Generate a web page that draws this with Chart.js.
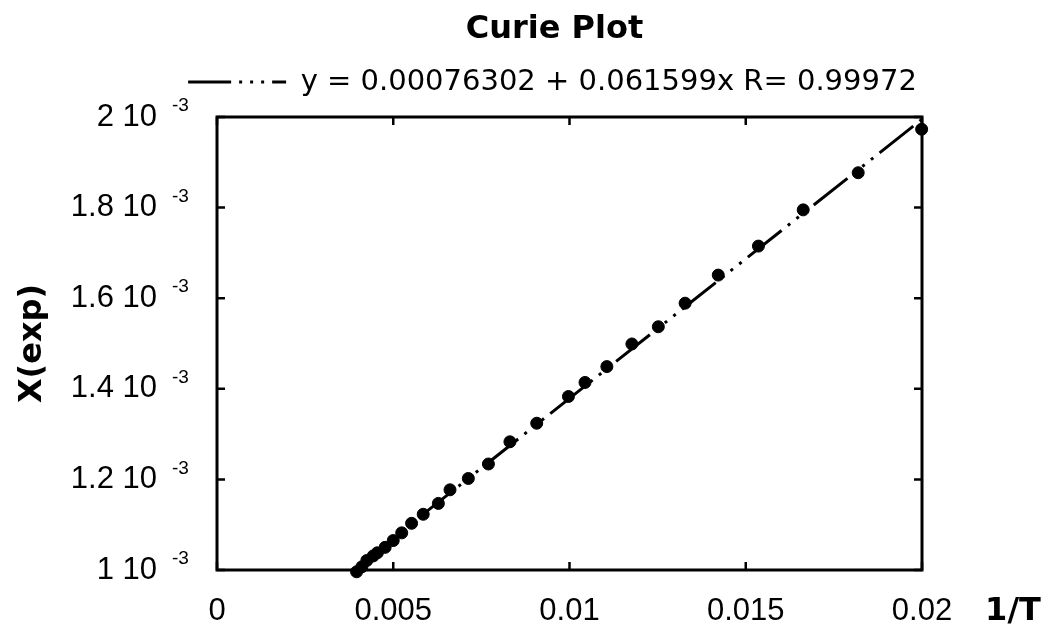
<!DOCTYPE html>
<html>
<head>
<meta charset="utf-8">
<title>Curie Plot</title>
<script src="https://cdn.jsdelivr.net/npm/chart.js@4.4.1/dist/chart.umd.min.js"></script>
<style>
  html, body { margin: 0; padding: 0; background: #fff; }
  #wrap { width: 1050px; height: 630px; }
</style>
</head>
<body>
<div id="wrap"><canvas id="curie"></canvas></div>
<script>
const invT = [0.00396, 0.00411, 0.00425, 0.00443, 0.00455, 0.00477, 0.00500, 0.00524, 0.00552,
  0.00585, 0.00628, 0.00661, 0.00713, 0.00770, 0.00831, 0.00907, 0.00997, 0.01044, 0.01106,
  0.01177, 0.01252, 0.01328, 0.01422, 0.01536, 0.01663, 0.01819, 0.01999];
const chiExp = [0.000996, 0.001007, 0.001021, 0.001031, 0.001038, 0.001050, 0.001065, 0.001082, 0.001103,
  0.001123, 0.001147, 0.001177, 0.001202, 0.001234, 0.001283, 0.001324, 0.001383, 0.001414, 0.001449,
  0.001499, 0.001537, 0.001589, 0.001651, 0.001715, 0.001795, 0.001877, 0.001973];

// fitted line, its two end points
const fitX = [0.00385, 0.02];
const fitY = [0.001, 0.001995];
const fitLabel = 'y = 0.00076302 + 0.061599x R= 0.99972';

const xTickLabels = ['0', '0.005', '0.01', '0.015', '0.02'];
const yTickLabels = ['1 10', '1.2 10', '1.4 10', '1.6 10', '1.8 10', '2 10'];
const yExp = '-3';

const points = invT.map((x, i) => ({ x: x, y: chiExp[i] }));
const fitPoints = fitX.map((x, i) => ({ x: x, y: fitY[i] }));

const fitDash = [43, 8, 3, 8, 3, 8, 3, 8];
const tickFont = { family: '"Liberation Sans", Arial, sans-serif', size: 31 };
const boldFont = { family: '"DejaVu Sans", sans-serif', size: 32, weight: 'bold' };

// title and legend sit a little left of the plot centre, legend is wider than the plot
const nudgePlugin = {
  id: 'nudge',
  afterLayout(chart) {
    const a = chart.chartArea;
    const lg = chart.legend;
    lg.left = a.left - 47;
    lg.right = a.right + 13;
    lg.width = lg.right - lg.left;
    chart.titleBlock.left -= 15;
    chart.titleBlock.right -= 15;
  }
};

// box round the plot, inward ticks, exponents and the 1/T label
const framePlugin = {
  id: 'frame',
  afterDraw(chart) {
    const { ctx, chartArea: a } = chart;
    const x = chart.scales.x, y = chart.scales.y;
    ctx.save();
    ctx.strokeStyle = '#000';
    ctx.lineWidth = 3;
    ctx.strokeRect(a.left, a.top, a.right - a.left, a.bottom - a.top);

    ctx.lineWidth = 2.5;
    ctx.beginPath();
    x.ticks.forEach(t => {
      const px = x.getPixelForValue(t.value);
      ctx.moveTo(px, a.bottom); ctx.lineTo(px, a.bottom - 8);
      ctx.moveTo(px, a.top); ctx.lineTo(px, a.top + 8);
    });
    y.ticks.forEach(t => {
      const py = y.getPixelForValue(t.value);
      ctx.moveTo(a.left, py); ctx.lineTo(a.left + 8, py);
      ctx.moveTo(a.right, py); ctx.lineTo(a.right - 8, py);
    });
    ctx.stroke();

    ctx.fillStyle = '#000';
    ctx.font = '19px "Liberation Sans", Arial, sans-serif';
    ctx.textAlign = 'left';
    ctx.textBaseline = 'middle';
    y.ticks.forEach(t => {
      ctx.fillText(yExp, y.right - 45, y.getPixelForValue(t.value) - 11);
    });

    ctx.font = 'bold 32px "DejaVu Sans", sans-serif';
    ctx.textAlign = 'center';
    ctx.fillText('1/T', x.right + 91, a.bottom + 41.5);
    ctx.restore();
  }
};

new Chart(document.getElementById('curie'), {
  type: 'scatter',
  data: {
    datasets: [{
      label: 'X(exp)',
      data: points,
      backgroundColor: '#000',
      borderColor: '#000',
      pointRadius: 6,
      pointHoverRadius: 6,
      clip: false
    }, {
      label: fitLabel,
      data: fitPoints,
      showLine: true,
      borderColor: '#000',
      borderWidth: 3,
      borderDash: fitDash,
      pointRadius: 0,
      fill: false
    }]
  },
  options: {
    responsive: true,
    maintainAspectRatio: false,
    animation: false,
    layout: { padding: { left: 0, right: 128, top: 0, bottom: 0 } },
    plugins: {
      title: {
        display: true,
        text: 'Curie Plot',
        fullSize: false,
        color: '#000',
        font: Object.assign({ lineHeight: 1 }, boldFont),
        padding: { top: 14, bottom: -14 }
      },
      legend: {
        display: true,
        fullSize: false,
        labels: {
          generateLabels: chart => {
            const items = Chart.defaults.plugins.legend.labels.generateLabels(chart);
            items.forEach(it => {
              it.lineDash = fitDash;
              it.lineWidth = 3;
              it.strokeStyle = '#000';
            });
            return items;
          },
          filter: item => item.datasetIndex === 1,
          usePointStyle: true,
          pointStyle: 'line',
          pointStyleWidth: 98,
          color: '#000',
          font: { family: '"DejaVu Sans", sans-serif', size: 29 },
          padding: 35.5
        }
      },
      tooltip: { enabled: false }
    },
    scales: {
      x: {
        type: 'linear',
        position: 'bottom',
        min: 0,
        max: 0.02,
        ticks: {
          stepSize: 0.005,
          font: tickFont,
          color: '#000',
          padding: 23,
          maxRotation: 0,
          autoSkip: false,
          callback: (v, i) => xTickLabels[i]
        },
        grid: { display: false, drawTicks: false },
        border: { display: false },
        afterFit: s => { s.height = 60; }
      },
      xTop: {
        type: 'linear',
        position: 'top',
        grid: { display: false, drawTicks: false },
        border: { display: false },
        ticks: { display: false },
        afterFit: s => { s.height = 10.5; }
      },
      y: {
        min: 0.001,
        max: 0.002,
        ticks: {
          stepSize: 0.0002,
          font: tickFont,
          color: '#000',
          padding: 60,
          callback: (v, i) => yTickLabels[i]
        },
        grid: { display: false, drawTicks: false },
        border: { display: false },
        title: {
          display: true,
          text: 'X(exp)',
          color: '#000',
          font: boldFont,
          padding: { top: 13, bottom: 0 }
        },
        afterFit: s => {
          s.width = 217;
          s.paddingTop = 20;
          s.paddingBottom = 20;
        }
      }
    }
  },
  plugins: [nudgePlugin, framePlugin]
});
</script>
</body>
</html>
